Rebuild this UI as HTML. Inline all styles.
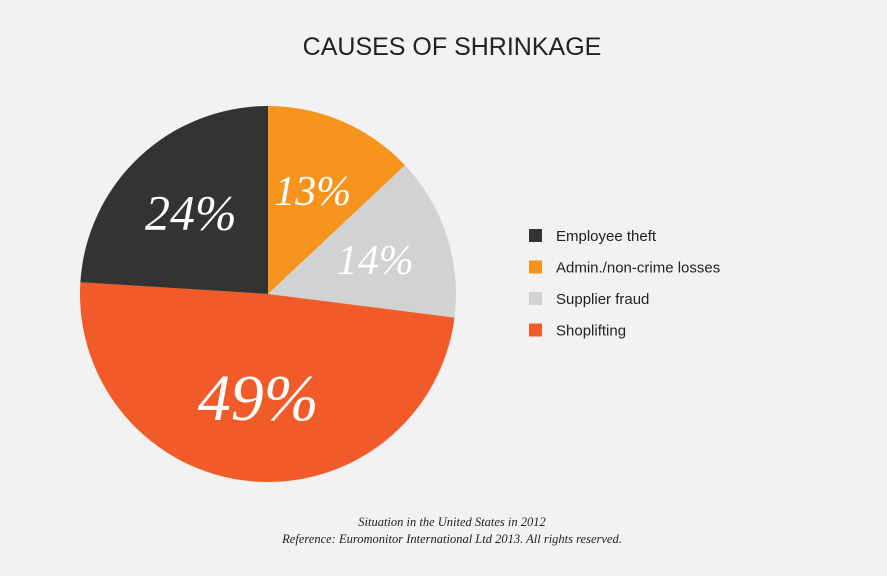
<!DOCTYPE html>
<html><head><meta charset="utf-8"><style>
html,body{margin:0;padding:0;background:#f2f2f2;}
body{width:887px;height:571px;overflow:hidden;position:relative;font-family:"Liberation Sans",sans-serif;}
</style></head><body>
<svg width="887" height="571">
<rect width="887" height="571" fill="#f2f2f2"/>
<text x="452" y="55" text-anchor="middle" font-family="Liberation Sans, sans-serif" font-size="25" fill="#222">CAUSES OF SHRINKAGE</text>
<g id="pie"></g>
<g id="legend"></g>
<text x="452" y="526" text-anchor="middle" font-family="Liberation Serif, serif" font-style="italic" font-size="12.5" fill="#222">Situation in the United States in 2012</text>
<text x="452" y="543" text-anchor="middle" font-family="Liberation Serif, serif" font-style="italic" font-size="12.5" fill="#222">Reference: Euromonitor International Ltd 2013. All rights reserved.</text>
</svg>
<script>
const categories=["Admin./non-crime losses","Supplier fraud","Shoplifting","Employee theft"];
const values=[13,14,49,24];
const colors=["#f7941d","#d1d2d4","#f15a29","#333331"];
const legendOrder=["Employee theft","Admin./non-crime losses","Supplier fraud","Shoplifting"];
const cx=268,cy=294,r=188;
const NS="http://www.w3.org/2000/svg";
const pie=document.getElementById('pie');
const total=values.reduce((a,b)=>a+b,0);
function pt(a,rr){return [cx+rr*Math.sin(a),cy-rr*Math.cos(a)];}
let a0=0;
values.forEach((v,i)=>{
  const a1=a0+v/total*2*Math.PI;
  const p0=pt(a0,r),p1=pt(a1,r);
  const large=(a1-a0)>Math.PI?1:0;
  const path=document.createElementNS(NS,'path');
  path.setAttribute('d',`M${cx},${cy}L${p0[0]},${p0[1]}A${r},${r} 0 ${large} 1 ${p1[0]},${p1[1]}Z`);
  path.setAttribute('fill',colors[i]);
  
  
  pie.appendChild(path);
  const mid=(a0+a1)/2;
  const lr=v>40?0.55*r:0.6*r;
  const lp=pt(mid,lr);
  const fs=v>40?66:(v>20?50:42);
  const t=document.createElementNS(NS,'text');
  t.setAttribute('x',lp[0]);t.setAttribute('y',lp[1]+fs*0.35);
  t.setAttribute('text-anchor','middle');
  t.setAttribute('font-family','Liberation Serif, serif');
  t.setAttribute('font-style','italic');
  t.setAttribute('font-size',fs);
  t.setAttribute('fill','#fff');
  t.textContent=v+'%';
  
  
  pie.appendChild(t);
  a0=a1;
});
const lg=document.getElementById('legend');
legendOrder.forEach((name,j)=>{
  const i=categories.indexOf(name);
  const y=236+j*31.5;
  const s=document.createElementNS(NS,'rect');
  s.setAttribute('x',529);s.setAttribute('y',y-7);s.setAttribute('width',13);s.setAttribute('height',13);
  s.setAttribute('fill',colors[i]);
  
  
  lg.appendChild(s);
  const t=document.createElementNS(NS,'text');
  t.setAttribute('x',556);t.setAttribute('y',y+5);
  t.setAttribute('font-family','Liberation Sans, sans-serif');
  t.setAttribute('font-size',15);t.setAttribute('fill','#222');
  t.textContent=name;
  
  
  lg.appendChild(t);
});
</script>
</body></html>
